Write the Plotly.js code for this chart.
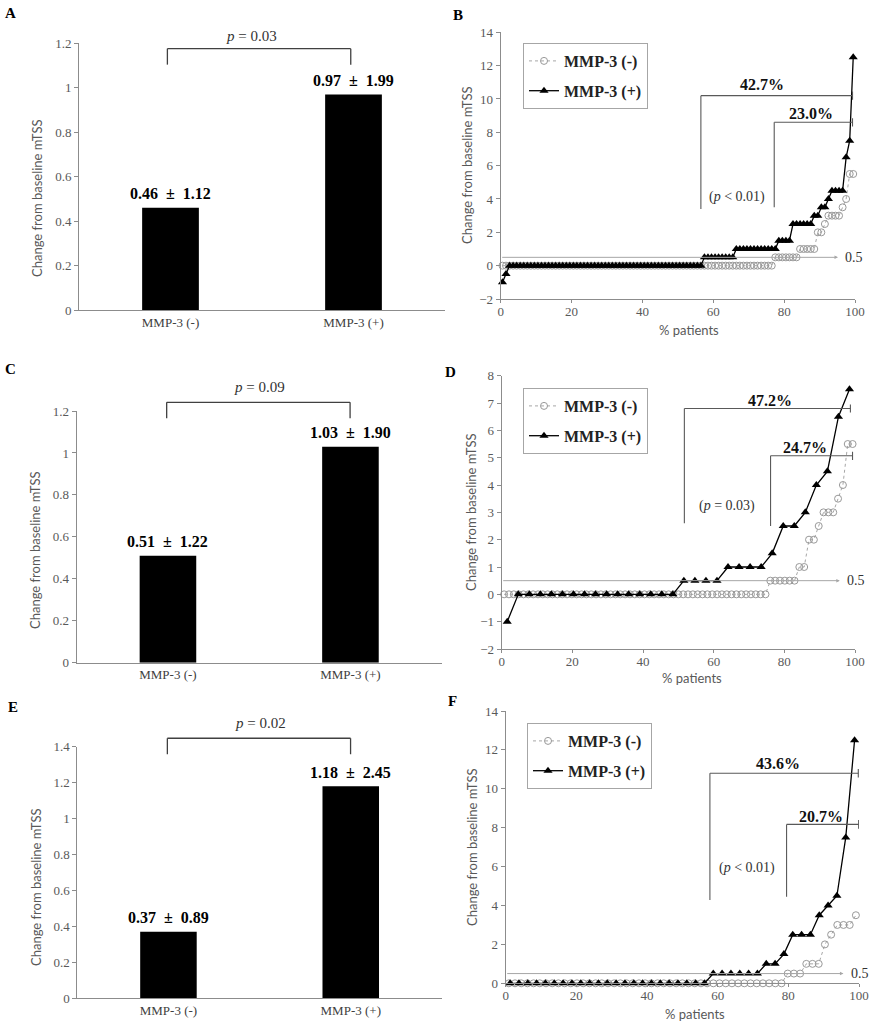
<!DOCTYPE html>
<html>
<head>
<meta charset="utf-8">
<script src="https://cdn.plot.ly/plotly-3.0.1.min.js"></script>
<style>
  html, body { margin: 0; padding: 0; background: #fff; }
  #fig { width: 880px; height: 1024px; }
</style>
</head>
<body>
<div id="fig"></div>
<script>
// bar panels A, C, E: mean (SD) change from baseline mTSS
var groups = ['MMP-3 (-)', 'MMP-3 (+)'];
var meanA = [0.46, 0.97];
var sdA = [1.12, 1.99];
var meanC = [0.51, 1.03];
var sdC = [1.22, 1.90];
var meanE = [0.37, 1.18];
var sdE = [0.89, 2.45];
var pBars = ['0.03', '0.09', '0.02'];

// cumulative plots B, D, F: change per patient, sorted
var negB = [
  0,0,0,0,0,0,0,0,0,0,0,0,0,0,0,0,0,0,0,0,
  0,0,0,0,0,0,0,0,0,0,0,0,0,0,0,0,0,0,0,0,
  0,0,0,0,0,0,0,0,0,0,0,0,0,0,0,0,0,0,0,0,
  0,0,0,0,0,0,0,0,0,0,0,0,0,0,0,0,0,
  0.5,0.5,0.5,0.5,0.5,0.5,0.5, 1,1,1,1,1, 2,2, 2.5, 3,3,3,3, 3.5, 4, 5.5,5.5
];
var posB = [
  -1,-0.5,
  0,0,0,0,0,0,0,0,0,0,0,0,0,0,0,0,0,0,0,0,
  0,0,0,0,0,0,0,0,0,0,0,0,0,0,0,0,0,0,0,0,
  0,0,0,0,0,0,0,0,0,0,0,0,0,0,0,
  0.5,0.5,0.5,0.5,0.5,0.5,0.5,0.5,0.5,
  1,1,1,1,1,1,1,1,1,1,1,1,
  1.5,1.5,1.5,1.5, 2.5,2.5,2.5,2.5,2.5,2.5, 3,3, 3.5,3.5, 4,
  4.5,4.5,4.5,4.5, 6.5, 7.5, 12.5
];
var negD = [
  0,0,0,0,0,0,0,0,0,0,0,0,0,0,0,0,0,0,0,0,
  0,0,0,0,0,0,0,0,0,0,0,0,0,0,0,0,0,0,0,0,
  0,0,0,0,0,0,0,0,0,0,0,0,0,0,0,
  0.5,0.5,0.5,0.5,0.5,0.5, 1,1, 2,2, 2.5, 3,3,3, 3.5, 4, 5.5,5.5
];
var posD = [
  -1, 0,0,0,0,0,0,0,0,0,0,0,0,0,0,0,
  0.5,0.5,0.5,0.5, 1,1,1,1, 1.5, 2.5,2.5, 3, 4, 4.5, 6.5, 7.5
];
var negF = [
  0,0,0,0,0,0,0,0,0,0,0,0,0,0,0,0,0,0,0,0,
  0,0,0,0,0,0,0,0,0,0,0,0,0,0,0,0,0,0,0,0,
  0,0,0,0,0,
  0.5,0.5,0.5, 1,1,1, 2, 2.5, 3,3,3, 3.5
];
var posF = [
  0,0,0,0,0,0,0,0,0,0,0,0,0,0,0,0,0,0,0,0,0,0,0,
  0.5,0.5,0.5,0.5,0.5,0.5, 1,1, 1.5, 2.5,2.5,2.5, 3.5, 4, 4.5, 7.5, 12.5
];

var W = 880, H = 1024;
var SERIF = 'Liberation Serif, Times New Roman, serif';
var SANS = 'Lato, Open Sans, sans-serif';
var AXIS = '#8c8c8c';
var TICK = '#595959';
var GAP = '\u00a0\u00a0';

function px(x) { return x / W; }
function py(y) { return 1 - y / H; }

// percent of patients at or below each sorted value
function pct(vals) {
  return vals.map(function(v, i) { return (i + 0.5) / vals.length * 100; });
}

function barTrace(mean, n) {
  return {
    type: 'bar', x: groups, y: mean, xaxis: 'x' + n, yaxis: 'y' + n,
    width: 0.31, marker: { color: '#000' }, showlegend: false, hoverinfo: 'skip'
  };
}

function negTrace(vals, n, leg) {
  return {
    type: 'scatter', mode: 'lines+markers', name: '<b>MMP-3 (-)</b>',
    x: pct(vals), y: vals, xaxis: 'x' + n, yaxis: 'y' + n, legend: leg, legendgroup: 'neg' + n,
    cliponaxis: false,
    line: { color: '#a6a6a6', width: 1, dash: 'dot' },
    marker: { symbol: 'circle-open', size: 7, color: '#999', line: { width: 1 } }
  };
}

function posTrace(vals, n, leg) {
  return {
    type: 'scatter', mode: 'lines+markers', name: '<b>MMP-3 (+)</b>',
    x: pct(vals), y: vals, xaxis: 'x' + n, yaxis: 'y' + n, legend: leg, legendgroup: 'pos' + n,
    cliponaxis: false,
    line: { color: '#000', width: 1.3 },
    marker: { symbol: 'triangle-up', size: 8, color: '#000' }
  };
}

var data = [
  barTrace(meanA, ''), barTrace(meanC, '3'), barTrace(meanE, '5'),
  negTrace(negB, '2', 'legend'), posTrace(posB, '2', 'legend'),
  negTrace(negD, '4', 'legend2'), posTrace(posD, '4', 'legend2'),
  negTrace(negF, '6', 'legend3'), posTrace(posF, '6', 'legend3')
];

function catAxis(left, right, yname) {
  return {
    domain: [px(left), px(right)], anchor: yname, range: [-0.5, 1.5],
    showline: true, linecolor: AXIS, linewidth: 1, ticks: '', showgrid: false, zeroline: false,
    tickfont: { family: SERIF, size: 13, color: '#404040' }, fixedrange: true
  };
}
function valAxis(bottom, top, xname, range, dtick) {
  return {
    domain: [py(bottom), py(top)], anchor: xname, range: range, dtick: dtick,
    showline: true, linecolor: AXIS, linewidth: 1, ticks: 'outside', ticklen: 4, tickcolor: AXIS,
    showgrid: false, zeroline: false,
    tickfont: { family: SERIF, size: 13, color: TICK }, fixedrange: true
  };
}
function pctAxis(left, right, yname) {
  return {
    domain: [px(left), px(right)], anchor: yname, range: [0, 100], dtick: 20,
    showline: true, linecolor: AXIS, linewidth: 1, ticks: 'outside', ticklen: 3, tickcolor: AXIS,
    ticklabelstandoff: -3,
    showgrid: false, zeroline: false,
    tickfont: { family: SERIF, size: 13, color: TICK }, fixedrange: true
  };
}

var shapes = [];
var annotations = [];

function label(text, x, y, size) {
  annotations.push({ xref: 'paper', yref: 'paper', x: px(x), y: py(y), text: '<b>' + text + '</b>',
    showarrow: false, xanchor: 'center', yanchor: 'middle',
    font: { family: SERIF, size: size || 15, color: '#000' } });
}
function yTitle(x, y) {
  annotations.push({ xref: 'paper', yref: 'paper', x: px(x), y: py(y), text: 'Change from baseline mTSS',
    textangle: -90, showarrow: false, xanchor: 'center', yanchor: 'middle',
    font: { family: SANS, size: 13, color: TICK } });
}
function xTitle(x, y) {
  annotations.push({ xref: 'paper', yref: 'paper', x: px(x), y: py(y), text: '% patients',
    showarrow: false, xanchor: 'center', yanchor: 'middle',
    font: { family: SANS, size: 13, color: TICK } });
}

// bar panel extras: value labels, p bracket (domain refs so they can sit above the range)
function barExtras(n, mean, sd, ymax, p, pX, pY, top, leg, x0, x1) {
  var xa = 'x' + n, ya = 'y' + n;
  var fx = function(c) { return (c + 0.5) / 2; };
  var fy = function(v) { return v / ymax; };
  mean.forEach(function(m, i) {
    annotations.push({ xref: xa, yref: ya, x: groups[i], y: m, yshift: 14, showarrow: false,
      xanchor: 'center', yanchor: 'middle',
      text: '<b>' + m.toFixed(2) + GAP + '±' + GAP + sd[i].toFixed(2) + '</b>',
      font: { family: SERIF, size: 16, color: '#000' } });
  });
  annotations.push({ xref: xa + ' domain', yref: ya + ' domain', x: fx(pX), y: fy(pY), showarrow: false,
    xanchor: 'center', yanchor: 'middle',
    text: '<i>p</i> = ' + p, font: { family: SERIF, size: 15, color: '#333' } });
  var ln = { type: 'line', xref: xa + ' domain', yref: ya + ' domain', line: { color: '#404040', width: 1.3 } };
  shapes.push(Object.assign({}, ln, { x0: fx(x0), x1: fx(x1), y0: fy(top), y1: fy(top) }));
  shapes.push(Object.assign({}, ln, { x0: fx(x0), x1: fx(x0), y0: fy(top), y1: fy(leg) }));
  shapes.push(Object.assign({}, ln, { x0: fx(x1), x1: fx(x1), y0: fy(top), y1: fy(leg) }));
}

// cumulative panel extras: percentage brackets, p text, 0.5 cut-off arrow
function cumExtras(n, b1, b2, t1, t2, pText, tick, cut) {
  var xa = 'x' + n, ya = 'y' + n;
  var ln = { type: 'line', xref: xa, yref: ya, line: { color: '#595959', width: 1.1 } };
  [b1, b2].forEach(function(b) {
    shapes.push(Object.assign({}, ln, { x0: b.x, x1: b.x, y0: b.lo, y1: b.hi }));
    shapes.push(Object.assign({}, ln, { x0: b.x, x1: b.end, y0: b.hi, y1: b.hi }));
    shapes.push(Object.assign({}, ln, { x0: b.end, x1: b.end, y0: b.hi - tick, y1: b.hi + tick }));
  });
  [t1, t2].forEach(function(t) {
    annotations.push({ xref: xa, yref: ya, x: t.x, y: t.y, text: '<b>' + t.text + '</b>', showarrow: false,
      xanchor: 'center', yanchor: 'middle',
      font: { family: SERIF, size: 16, color: '#111' } });
  });
  annotations.push({ xref: xa, yref: ya, x: pText.x, y: pText.y, text: pText.text, showarrow: false,
    xanchor: 'center', yanchor: 'middle',
    font: { family: SERIF, size: 14, color: '#333' } });
  annotations.push({ xref: xa, yref: ya, axref: xa, ayref: ya, x: cut.end, y: 0.5, ax: 0, ay: 0.5,
    text: '', showarrow: true, arrowhead: 2, arrowsize: 0.7, arrowwidth: 1, arrowcolor: '#a6a6a6',
    standoff: 0, startstandoff: 0 });
  // label sits just past the axis end, so place it in domain units
  annotations.push({ xref: xa + ' domain', yref: ya, x: cut.label / 100, y: 0.5, text: '0.5', showarrow: false,
    xanchor: 'center', yanchor: 'middle',
    font: { family: SERIF, size: 14, color: '#333' } });
}

barExtras('', meanA, sdA, 1.2, pBars[0], 0.444, 1.235, 1.176, 1.104, -0.017, 0.985);
barExtras('3', meanC, sdC, 1.2, pBars[1], 0.504, 1.314, 1.2415, 1.165, -0.007, 0.998);
barExtras('5', meanE, sdE, 1.4, pBars[2], 0.506, 1.53, 1.447, 1.358, -0.006, 0.999);

cumExtras('2',
  { x: 56.5, lo: 3.4, hi: 10.2, end: 99.3 }, { x: 77.2, lo: 3.5, hi: 8.6, end: 99.3 },
  { x: 73.7, y: 10.84, text: '42.7%' }, { x: 87.5, y: 9.14, text: '23.0%' },
  { x: 66.7, y: 4.1, text: '(<i>p</i> &lt; 0.01)' }, 0.25, { end: 95.2, label: 99.6 });
cumExtras('4',
  { x: 51.7, lo: 2.6, hi: 6.8, end: 98.7 }, { x: 76.1, lo: 2.5, hi: 5.07, end: 99.3 },
  { x: 75.9, y: 7.1, text: '47.2%' }, { x: 85.8, y: 5.38, text: '24.7%' },
  { x: 63.7, y: 3.24, text: '(<i>p</i> = 0.03)' }, 0.15, { end: 95.7, label: 100.4 });
cumExtras('6',
  { x: 57.8, lo: 4.28, hi: 10.8, end: 99.8 }, { x: 79.5, lo: 4.45, hi: 8.17, end: 99.9 },
  { x: 77.2, y: 11.3, text: '43.6%' }, { x: 89.2, y: 8.6, text: '20.7%' },
  { x: 68.2, y: 5.95, text: '(<i>p</i> &lt; 0.01)' }, 0.22, { end: 95.6, label: 100.3 });

label('A', 10, 13); label('B', 458, 15); label('C', 10, 369);
label('D', 450, 372); label('E', 13, 707); label('F', 452, 701);

yTitle(37, 198); yTitle(35, 550); yTitle(36, 887);
yTitle(467, 165); yTitle(471, 512); yTitle(472, 847);
xTitle(689, 330); xTitle(692, 678); xTitle(695, 1014);

function legendAt(x, y) {
  return {
    x: px(x), y: py(y), xanchor: 'left', yanchor: 'top',
    bgcolor: '#fff', bordercolor: '#a6a6a6', borderwidth: 1,
    font: { family: SERIF, size: 16, color: '#222' },
    itemwidth: 30, tracegroupgap: 6
  };
}

var layout = {
  width: W, height: H,
  margin: { l: 0, r: 0, t: 0, b: 0 },
  paper_bgcolor: '#fff', plot_bgcolor: '#fff',
  showlegend: true, hovermode: false,
  xaxis: catAxis(79, 445, 'y'),
  yaxis: valAxis(310, 43.3, 'x', [0, 1.2], 0.2),
  xaxis3: catAxis(76.7, 441.7, 'y3'),
  yaxis3: valAxis(662.7, 411, 'x3', [0, 1.2], 0.2),
  xaxis5: catAxis(77.3, 441.9, 'y5'),
  yaxis5: valAxis(998.3, 746.7, 'x5', [0, 1.4], 0.2),
  xaxis2: pctAxis(500.7, 855, 'y2'),
  yaxis2: valAxis(299, 32.3, 'x2', [-2, 14], 2),
  xaxis4: pctAxis(501.7, 855, 'y4'),
  yaxis4: valAxis(649, 375.7, 'x4', [-2, 8], 1),
  xaxis6: pctAxis(505.7, 859, 'y6'),
  yaxis6: valAxis(983.3, 711, 'x6', [0, 14], 2),
  legend: legendAt(523, 43),
  legend2: legendAt(523, 388),
  legend3: legendAt(527, 723),
  shapes: shapes,
  annotations: annotations
};

Plotly.newPlot('fig', data, layout, { displayModeBar: false, staticPlot: true });
</script>
</body>
</html>
